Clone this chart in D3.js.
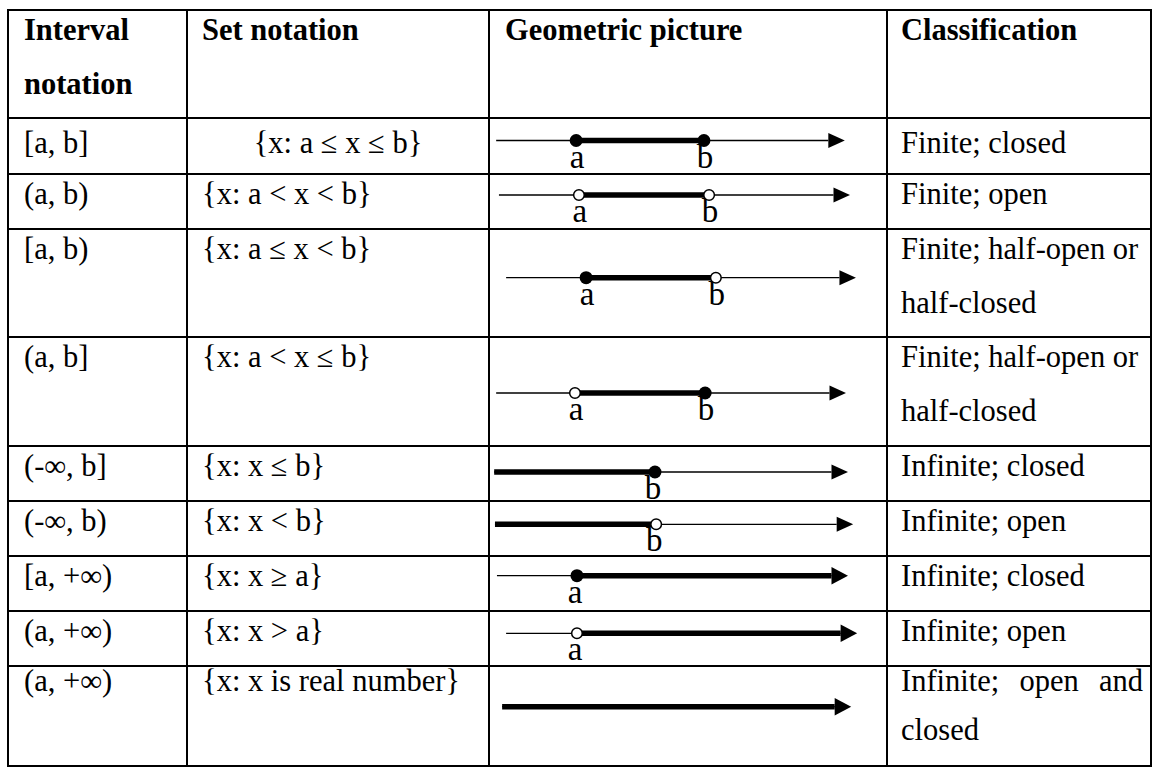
<!DOCTYPE html>
<html>
<head>
<meta charset="utf-8">
<script src="https://cdn.jsdelivr.net/npm/d3@7"></script>
<style>
  body { margin: 0; background: #fff; }
  svg { display: block; }
  text { font-family: 'Liberation Serif', 'Times New Roman', serif; fill: #000; }
</style>
</head>
<body>
<script>
// table content
const headers = [['Interval', 'notation'], ['Set notation'], ['Geometric picture'], ['Classification']];
const intervals = ['[a, b]', '(a, b)', '[a, b)', '(a, b]', '(-∞, b]', '(-∞, b)', '[a, +∞)', '(a, +∞)', '(a, +∞)'];
const setNotation = ['{x: a ≤ x ≤ b}', '{x: a < x < b}', '{x: a ≤ x < b}', '{x: a < x ≤ b}',
  '{x: x ≤ b}', '{x: x < b}', '{x: x ≥ a}', '{x: x > a}', '{x: x is real number}'];
const classification = [
  ['Finite; closed'], ['Finite; open'],
  ['Finite; half-open or', 'half-closed'], ['Finite; half-open or', 'half-closed'],
  ['Infinite; closed'], ['Infinite; open'], ['Infinite; closed'], ['Infinite; open'],
  ['Infinite; open and', 'closed']
];

// number line values (0-100 across the picture column)
const lineStart = [1.8, 2.5, 4.3, 1.8, 1.3, 1.5, 2.0, 4.3, 3.3];
const pointA = [21.9, 22.6, 24.4, 21.6, null, null, 22.1, 22.1, null];
const pointB = [54.0, 55.3, 57.0, 54.3, 41.7, 42.0, null, null, null];
const arrowEnd = [89.4, 90.7, 92.2, 89.7, 90.2, 91.5, 90.2, 92.5, 91.0];
const closedA = [true, false, true, false, null, null, true, false, null];
const closedB = [true, false, false, true, true, false, null, null, null];

// layout
const W = 1152, H = 767;
const rowEdges = [10, 118, 174, 229, 337, 446, 501, 556, 611, 666, 766];
const colEdges = [8, 187, 489, 887, 1151];
const lineOffset = [22.5, 21, 48.7, 56, 26, 23.3, 19.7, 22.3, 40.7];
const textOffset = [35, 29.5, 29.5, 29.5, 29.5, 30, 30, 30, 25];
const lineGap = [54, 54, 54, 54, 54, 54, 54, 54, 49];
const fontSize = 30.5;

const svg = d3.select('body').append('svg')
  .attr('width', W)
  .attr('height', H);

const x = d3.scaleLinear().domain([0, 100]).range([colEdges[2], colEdges[3]]);
const textX = [24, 202, 505, 901];

// header
headers.forEach((lines, c) => {
  svg.append('g').selectAll('text')
    .data(lines)
    .enter()
    .append('text')
    .attr('x', textX[c])
    .attr('y', (d, i) => rowEdges[0] + 30 + i * 54)
    .style('font-size', fontSize + 'px')
    .style('font-weight', 'bold')
    .text((d) => d);
});

const rows = intervals.map((d, i) => ({
  i: i,
  top: rowEdges[i + 1],
  interval: d,
  set: setNotation[i],
  cls: classification[i],
  start: lineStart[i],
  a: pointA[i],
  b: pointB[i],
  end: arrowEnd[i],
  ca: closedA[i],
  cb: closedB[i]
}));

const row = svg.append('g').selectAll('g')
  .data(rows)
  .enter()
  .append('g');

row.append('text')
  .attr('x', textX[0])
  .attr('y', (d) => d.top + textOffset[d.i])
  .style('font-size', fontSize + 'px')
  .text((d) => d.interval);

row.append('text')
  .attr('x', (d) => d.i === 0 ? (colEdges[1] + colEdges[2]) / 2 : textX[1])
  .attr('text-anchor', (d) => d.i === 0 ? 'middle' : 'start')
  .attr('y', (d) => d.top + textOffset[d.i])
  .style('font-size', fontSize + 'px')
  .text((d) => d.set);

// classification, last row's first line is justified
row.each(function (d) {
  const g = d3.select(this);
  d.cls.forEach((line, k) => {
    const y = d.top + textOffset[d.i] + k * lineGap[d.i];
    if (d.i === 8 && k === 0) {
      const words = line.split(' ');
      const ws = words.map((w) => g.append('text')
        .attr('y', y)
        .style('font-size', fontSize + 'px')
        .text(w));
      const widths = ws.map((t) => t.node().getComputedTextLength());
      const total = d3.sum(widths);
      const right = colEdges[4] - 8;
      const gap = (right - textX[3] - total) / (words.length - 1);
      let cx = textX[3];
      ws.forEach((t, j) => {
        t.attr('x', cx);
        cx += widths[j] + gap;
      });
    } else {
      g.append('text')
        .attr('x', textX[3])
        .attr('y', y)
        .style('font-size', fontSize + 'px')
        .text(line);
    }
  });
});

// number lines
const arrowLen = 16.5;
row.each(function (d) {
  const g = d3.select(this);
  const y = d.top + lineOffset[d.i];
  const x0 = x(d.start);
  const tip = x(d.end);
  const base = tip - arrowLen;
  const thickFrom = d.a != null ? x(d.a) : x0;
  const thickTo = d.b != null ? x(d.b) : base;
  const thickToArrow = d.b == null;

  g.append('line')
    .attr('x1', x0).attr('x2', base)
    .attr('y1', y).attr('y2', y)
    .attr('stroke', '#000')
    .attr('stroke-width', 1.3);

  g.append('line')
    .attr('x1', thickFrom).attr('x2', thickTo)
    .attr('y1', y).attr('y2', y)
    .attr('stroke', '#000')
    .attr('stroke-width', 5.5);

  const hh = thickToArrow ? 8.7 : 7.5;
  g.append('path')
    .attr('d', `M${tip},${y} L${base},${y - hh} L${base},${y + hh} Z`)
    .attr('fill', '#000');

  const pts = [];
  if (d.a != null) pts.push({ v: d.a, closed: d.ca, label: 'a' });
  if (d.b != null) pts.push({ v: d.b, closed: d.cb, label: 'b' });

  g.selectAll('text.lbl')
    .data(pts)
    .enter()
    .append('text')
    .attr('class', 'lbl')
    .attr('x', (p) => x(p.v) + (d.a == null || d.b == null ? -2 : 1))
    .attr('y', y + 27)
    .attr('text-anchor', 'middle')
    .style('font-size', '33px')
    .text((p) => p.label);

  g.selectAll('circle')
    .data(pts)
    .enter()
    .append('circle')
    .attr('cx', (p) => x(p.v))
    .attr('cy', y)
    .attr('r', (p) => p.closed ? 6.5 : 5.3)
    .attr('fill', (p) => p.closed ? '#000' : '#fff')
    .attr('stroke', '#000')
    .attr('stroke-width', (p) => p.closed ? 0 : 1.5);
});

// grid lines on top
svg.append('g').selectAll('line')
  .data(rowEdges)
  .enter()
  .append('line')
  .attr('x1', colEdges[0] - 1)
  .attr('x2', colEdges[colEdges.length - 1] + 1)
  .attr('y1', (d) => d)
  .attr('y2', (d) => d)
  .attr('stroke', '#000')
  .attr('stroke-width', 2);

svg.append('g').selectAll('line')
  .data(colEdges)
  .enter()
  .append('line')
  .attr('x1', (d) => d)
  .attr('x2', (d) => d)
  .attr('y1', rowEdges[0] - 1)
  .attr('y2', rowEdges[rowEdges.length - 1] + 1)
  .attr('stroke', '#000')
  .attr('stroke-width', 2);
</script>
</body>
</html>
